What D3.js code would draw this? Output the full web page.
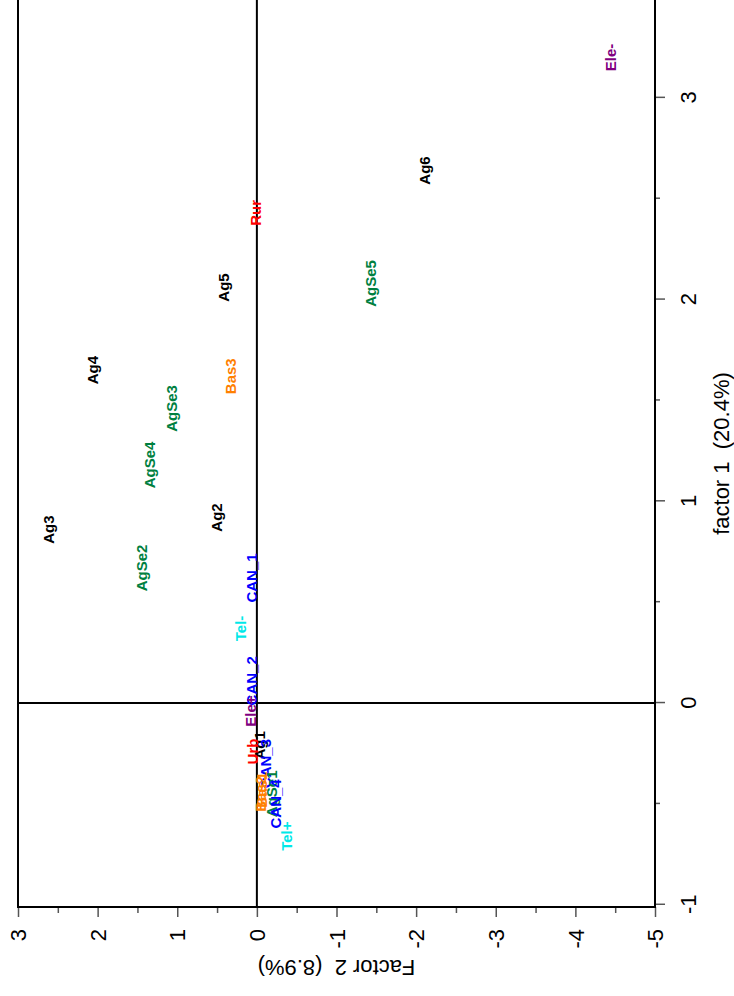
<!DOCTYPE html>
<html>
<head>
<meta charset="utf-8">
<script src="https://cdn.jsdelivr.net/npm/d3@7/dist/d3.min.js"></script>
<style>
  body { margin: 0; background: #fff; }
  text { font-family: "Liberation Sans", Arial, sans-serif; }
</style>
</head>
<body>
<div id="chart"></div>
<script>
// factor map, categories with their coordinates on factor 1 / factor 2
const labels  = ["Ele-", "Ag6", "Rur", "AgSe5", "Ag5", "Ag4", "Bas3", "AgSe3", "AgSe4", "Ag3",
                 "Ag2", "AgSe2", "CAN_1", "Tel-", "CAN_2", "Ele+", "Ag1", "Urb", "CAN_3",
                 "Bas1", "Bas2", "AgSe1", "CAN_4", "Tel+"];
const factor1 = [3.20, 2.64, 2.43, 2.08, 2.06, 1.65, 1.62, 1.46, 1.18, 0.86,
                 0.92, 0.67, 0.62, 0.37, 0.11, -0.04, -0.21, -0.24, -0.30,
                 -0.43, -0.45, -0.45, -0.50, -0.66];
const factor2 = [-4.44, -2.11, 0.02, -1.43, 0.41, 2.06, 0.33, 1.07, 1.34, 2.61,
                 0.50, 1.44, 0.07, 0.20, 0.07, 0.08, -0.03, 0.05, -0.11,
                 -0.06, -0.05, -0.19, -0.24, -0.38];
const groups  = ["Ele", "Ag", "Res", "AgSe", "Ag", "Ag", "Bas", "AgSe", "AgSe", "Ag",
                 "Ag", "AgSe", "CAN", "Tel", "CAN", "Ele", "Ag", "Res", "CAN",
                 "Bas", "Bas", "AgSe", "CAN", "Tel"];

const f1Ticks = [-1, 0, 1, 2, 3];
const f1Minor = [-0.5, 0.5, 1.5, 2.5];
const f2Ticks = [3, 2, 1, 0, -1, -2, -3, -4, -5];
const f2Minor = [2.5, 1.5, 0.5, -0.5, -1.5, -2.5, -3.5, -4.5];

const color = d3.scaleOrdinal()
  .domain(["Ag", "AgSe", "Bas", "Res", "CAN", "Tel", "Ele"])
  .range(["#000000", "#008040", "#ff8000", "#ff0000", "#0000ff", "#00e8e8", "#800080"]);

const W = 734, H = 996;
const svg = d3.select("#chart").append("svg")
  .attr("width", W)
  .attr("height", H);

// the chart is drawn in landscape and turned a quarter turn to the left
const g = svg.append("g")
  .attr("transform", `translate(0,${H}) rotate(-90)`);

const x = d3.scaleLinear().domain([-1.011, 3.485]).range([89, 996]);
const y = d3.scaleLinear().domain([3, -5]).range([18, 655]);

// minor ticks
g.append("g")
  .attr("transform", `translate(0,${y.range()[1]})`)
  .call(d3.axisBottom(x).tickValues(f1Minor).tickSize(5).tickFormat(""))
  .call(a => a.select(".domain").remove());
g.append("g")
  .attr("transform", `translate(${x.range()[0]},0)`)
  .call(d3.axisLeft(y).tickValues(f2Minor).tickSize(6).tickFormat(""))
  .call(a => a.select(".domain").remove());

// factor 1 axis
const ax1 = g.append("g")
  .attr("transform", `translate(0,${y.range()[1]})`)
  .call(d3.axisBottom(x).tickValues(f1Ticks).tickSize(10).tickFormat(d => String(d)));
ax1.select(".domain").remove();
ax1.selectAll("text")
  .attr("y", 33)
  .attr("dy", "0.35em")
  .attr("font-size", 22)
  .attr("fill", "#000");

// factor 2 axis
const ax2 = g.append("g")
  .attr("transform", `translate(${x.range()[0]},0)`)
  .call(d3.axisLeft(y).tickValues(f2Ticks).tickSize(10).tickFormat(d => String(d)));
ax2.select(".domain").remove();
ax2.selectAll("text")
  .attr("x", -22)
  .attr("dy", "0.35em")
  .attr("font-size", 22)
  .attr("fill", "#000");

g.selectAll(".tick line")
  .attr("stroke", "#555")
  .attr("stroke-width", 1.5);

// frame
g.append("rect")
  .attr("x", x.range()[0])
  .attr("y", y.range()[0])
  .attr("width", x.range()[1] + 10 - x.range()[0])
  .attr("height", y.range()[1] - y.range()[0])
  .attr("fill", "none")
  .attr("stroke", "#000")
  .attr("stroke-width", 2);

// zero lines
g.append("line")
  .attr("x1", x(0)).attr("x2", x(0))
  .attr("y1", y.range()[0]).attr("y2", y.range()[1])
  .attr("stroke", "#000").attr("stroke-width", 2);
g.append("line")
  .attr("x1", x.range()[0]).attr("x2", x.range()[1] + 10)
  .attr("y1", y(0)).attr("y2", y(0))
  .attr("stroke", "#000").attr("stroke-width", 2);

// axis titles
g.append("text")
  .attr("x", (x.range()[0] + x.range()[1]) / 2)
  .attr("y", 721)
  .attr("dy", "0.35em")
  .attr("text-anchor", "middle")
  .attr("font-size", 22)
  .style("white-space", "pre")
  .text("factor 1  (20.4%)");

g.append("text")
  .attr("transform", `translate(28,${(y.range()[0] + y.range()[1]) / 2}) rotate(-90)`)
  .attr("dy", "0.35em")
  .attr("text-anchor", "middle")
  .attr("font-size", 22)
  .style("white-space", "pre")
  .text("Factor 2  (8.9%)");

// category labels
g.selectAll("text.lbl")
  .data(d3.range(labels.length))
  .enter()
  .append("text")
  .attr("class", "lbl")
  .attr("x", i => x(factor1[i]))
  .attr("y", i => y(factor2[i]))
  .attr("dy", "0.35em")
  .attr("text-anchor", "middle")
  .attr("font-size", 15)
  .attr("font-weight", "700")
  .attr("fill", i => color(groups[i]))
  .text(i => labels[i]);
</script>
</body>
</html>
